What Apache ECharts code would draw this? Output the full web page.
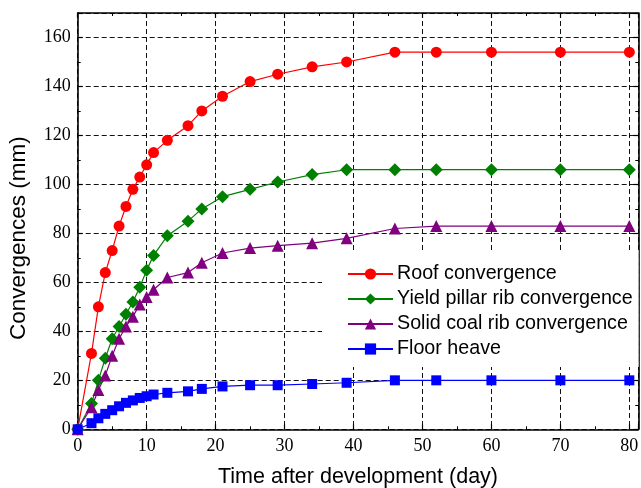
<!DOCTYPE html>
<html>
<head>
<meta charset="utf-8">
<script src="https://cdn.jsdelivr.net/npm/echarts@6/dist/echarts.min.js"></script>
<style>
  html, body { margin: 0; padding: 0; background: #fff; }
  #chart { width: 641px; height: 488px; }
</style>
</head>
<body>
<div id="chart"></div>
<script>
// Measurement days after roadway development
const days = [0, 2, 3, 4, 5, 6, 7, 8, 9, 10, 11, 13, 16, 18, 21, 25, 29, 34, 39, 46, 52, 60, 70, 80];

// Convergences (mm)
const roofConvergence = [0, 31, 50, 64, 73, 83, 91, 98, 103, 108, 113, 118, 124, 130, 136, 142, 145, 148, 150, 154, 154, 154, 154, 154];
const yieldPillarRib = [0, 10.5, 20, 29, 37, 42, 47, 52, 58, 65, 71, 79, 85, 90, 95, 98, 101, 104, 106, 106, 106, 106, 106, 106];
const solidCoalRib = [0, 9, 16, 22, 30, 37, 42, 46, 51, 54, 57, 62, 64, 68, 72, 74, 75, 76, 78, 82, 83, 83, 83, 83];
const floorHeave = [0, 2.5, 4.5, 6.3, 7.8, 9.4, 10.8, 11.8, 12.8, 13.5, 14.2, 14.9, 15.5, 16.5, 17.5, 18, 18, 18.5, 19, 20, 20, 20, 20, 20];

const seriesNames = [
  'Roof convergence',
  'Yield pillar rib convergence',
  'Solid coal rib convergence',
  'Floor heave'
];

const pair = (ys) => days.map((d, i) => [d, ys[i]]);

const chart = echarts.init(document.getElementById('chart'), null, { renderer: 'canvas' });

const serifLabel = { fontFamily: 'Liberation Serif', fontSize: 18, color: '#000' };
const dashed = { show: true, lineStyle: { color: '#111', width: 1, type: [5, 3] } };

const boxAxis = (extra) => Object.assign({
  type: 'value',
  axisLine: { show: true, onZero: false, lineStyle: { color: '#000', width: 1.6 } },
  axisTick: { show: true, inside: true, length: 5, lineStyle: { color: '#000', width: 1.2 } },
  minorTick: { show: true, splitNumber: 2, length: 3, lineStyle: { color: '#000', width: 1 } },
  axisLabel: { show: false },
  splitLine: { show: false }
}, extra);

function makeSeries(name, ys, color, symbol, size) {
  return {
    name: name,
    type: 'line',
    data: pair(ys),
    symbol: symbol,
    symbolSize: size,
    showAllSymbol: true,
    lineStyle: { color: color, width: 1.2 },
    itemStyle: { color: color },
    emphasis: { disabled: true },
    animation: false
  };
}

chart.setOption({
  animation: false,
  backgroundColor: '#fff',
  grid: {
    left: 77.7, right: 2.7, top: 13, bottom: 58.7,
    containLabel: false,
    outerBoundsMode: 'none'
  },
  legend: {
    orient: 'vertical',
    left: 322,
    top: 250,
    padding: [14, 6, 8, 25],
    backgroundColor: '#fff',
    itemWidth: 45,
    itemHeight: 14,
    itemGap: 5,
    textStyle: { fontFamily: 'Liberation Sans', fontSize: 19.7, color: '#000', padding: [0, 0, 0, -1] },
    data: seriesNames
  },
  xAxis: [
    boxAxis({
      min: 0, max: 81.3, interval: 10, position: 'bottom',
      name: 'Time after development (day)',
      nameLocation: 'middle',
      nameGap: 37,
      nameTextStyle: { fontFamily: 'Liberation Sans', fontSize: 21.5, color: '#000' },
      axisLabel: Object.assign({ show: true, margin: 8, showMaxLabel: false }, serifLabel),
      splitLine: dashed
    }),
    boxAxis({ min: 0, max: 81.3, interval: 10, position: 'top' })
  ],
  yAxis: [
    boxAxis({
      min: 0, max: 170, interval: 20, position: 'left',
      name: 'Convergences (mm)',
      nameLocation: 'middle',
      nameGap: 47,
      nameTextStyle: { fontFamily: 'Liberation Sans', fontSize: 22.5, color: '#000', padding: [0, 34, 0, 0] },
      axisLabel: Object.assign({ show: true, margin: 7, showMaxLabel: false }, serifLabel),
      splitLine: dashed
    }),
    boxAxis({ min: 0, max: 170, interval: 20, position: 'right' })
  ],
  series: [
    makeSeries(seriesNames[0], roofConvergence, '#ff0000', 'circle', 11),
    makeSeries(seriesNames[1], yieldPillarRib, '#008000', 'diamond', 13),
    makeSeries(seriesNames[2], solidCoalRib, '#800080', 'triangle', 12),
    makeSeries(seriesNames[3], floorHeave, '#0000ff', 'rect', 10)
  ]
});
</script>
</body>
</html>
